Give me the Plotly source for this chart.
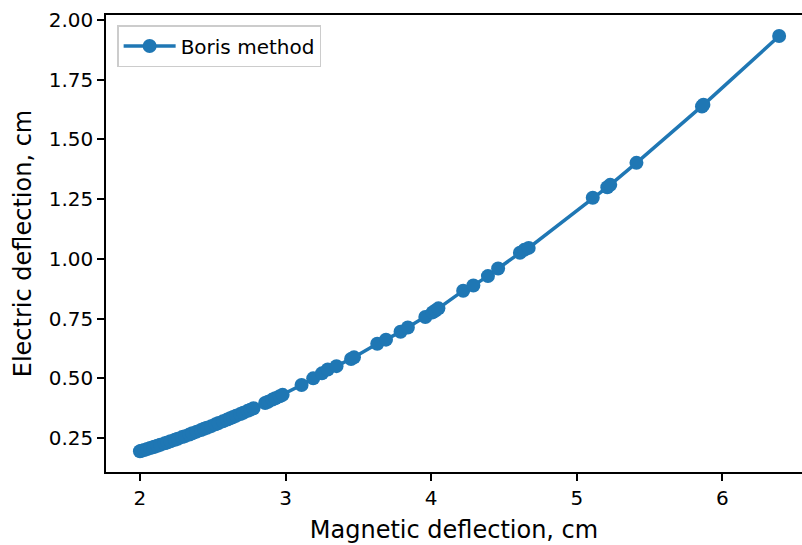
import plotly.graph_objects as go

magnetic_cm = [2.00, 2.01, 2.03, 2.05, 2.07, 2.09, 2.10, 2.12, 2.14, 2.17, 2.19, 2.21, 2.24, 2.26,
               2.29, 2.31, 2.34, 2.36, 2.39, 2.42, 2.44, 2.46, 2.49, 2.52, 2.54, 2.57, 2.60, 2.62,
               2.64, 2.66, 2.69, 2.71, 2.74, 2.76, 2.78, 2.86, 2.88, 2.91, 2.93, 2.96, 2.98,
               3.11, 3.19, 3.25, 3.29, 3.35, 3.45, 3.47, 3.63, 3.69, 3.79, 3.84, 3.96, 4.01, 4.03,
               4.05, 4.22, 4.29, 4.39, 4.46, 4.61, 4.64, 4.67, 5.11, 5.21, 5.23, 5.41, 5.86, 5.87,
               6.39]
electric_cm = [0.195, 0.197, 0.200, 0.204, 0.208, 0.212, 0.214, 0.218, 0.222, 0.228, 0.232, 0.237,
               0.243, 0.247, 0.254, 0.258, 0.265, 0.270, 0.277, 0.284, 0.289, 0.293, 0.300, 0.308,
               0.313, 0.320, 0.328, 0.333, 0.338, 0.343, 0.351, 0.356, 0.364, 0.369, 0.375, 0.397,
               0.402, 0.411, 0.417, 0.425, 0.431,
               0.472, 0.500, 0.521, 0.537, 0.551, 0.581, 0.588, 0.645, 0.662, 0.695, 0.713, 0.757,
               0.776, 0.784, 0.793, 0.867, 0.889, 0.928, 0.960, 1.026, 1.038, 1.046, 1.256, 1.300,
               1.310, 1.402, 1.638, 1.645, 1.933]

series_name = "Boris method"
x_title = "Magnetic deflection, cm"
y_title = "Electric deflection, cm"

fig = go.Figure()
fig.add_trace(go.Scatter(
    x=magnetic_cm, y=electric_cm, mode="lines+markers", name=series_name,
    line=dict(color="#1f77b4", width=3.5),
    marker=dict(color="#1f77b4", size=14),
))

fig.update_layout(
    width=802, height=545,
    margin=dict(l=106, r=0, t=15, b=73),
    paper_bgcolor="white", plot_bgcolor="white",
    font=dict(family="DejaVu Sans", size=20, color="black"),
    showlegend=True,
    legend=dict(x=0.016, y=0.978, xanchor="left", yanchor="top",
                bgcolor="white", bordercolor="#cccccc", borderwidth=1.5,
                font=dict(size=20), itemwidth=52),
    xaxis=dict(range=[1.767, 6.547], tickvals=[2, 3, 4, 5, 6],
               showgrid=False, zeroline=False, showline=True, linecolor="black",
               linewidth=1.5, mirror=True, ticks="outside", ticklen=7, tickwidth=1.5,
               tickcolor="black", tickfont=dict(size=20),
               title=dict(text=x_title, font=dict(size=24), standoff=12)),
    yaxis=dict(range=[0.108, 2.021], tickvals=[0.25, 0.5, 0.75, 1.0, 1.25, 1.5, 1.75, 2.0],
               ticktext=["0.25", "0.50", "0.75", "1.00", "1.25", "1.50", "1.75", "2.00"],
               showgrid=False, zeroline=False, showline=True, linecolor="black",
               linewidth=1.5, mirror=False, ticks="outside", ticklen=7, tickwidth=1.5,
               tickcolor="black", tickfont=dict(size=20),
               title=dict(text=y_title, font=dict(size=24), standoff=10)),
)

fig.write_html("out.html")
